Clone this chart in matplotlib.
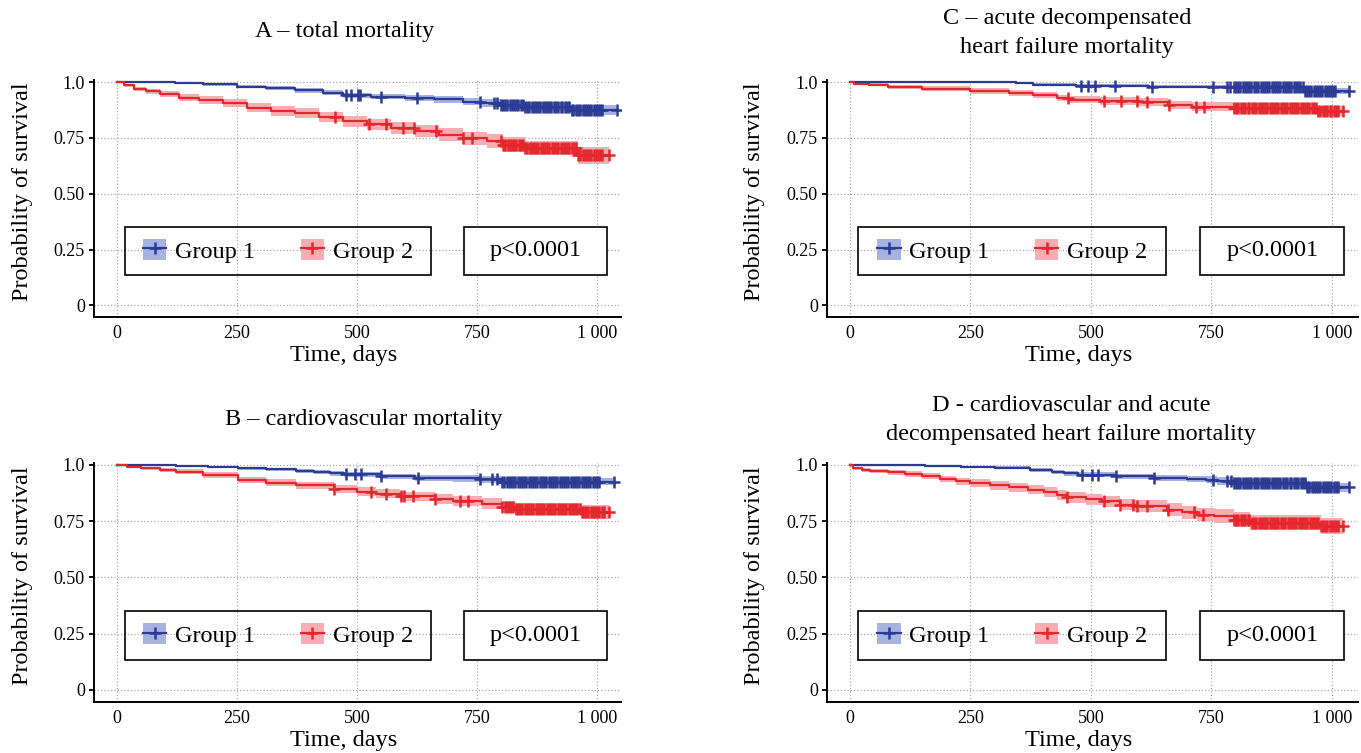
import numpy as np
import matplotlib
matplotlib.use("Agg")
import matplotlib.pyplot as plt
from matplotlib.patches import Patch, Rectangle
from matplotlib.lines import Line2D
from matplotlib.transforms import blended_transform_factory

plt.rcParams['font.family'] = ['Liberation Serif', 'DejaVu Serif']

# Kaplan-Meier curves: (day, survival, lower CI, upper CI)
a_blue = [(0, 1.0, 1.0, 1.0), (60, .998, .995, 1.0), (120, .995, .990, 1.0), (180, .990, .984, .996),
          (250, .980, .972, .988), (310, .972, .963, .981), (370, .963, .953, .973), (430, .952, .941, .963),
          (470, .940, .928, .952), (530, .935, .922, .948), (600, .928, .914, .942), (660, .922, .907, .937),
          (720, .912, .896, .928), (760, .905, .888, .922), (800, .897, .879, .915), (850, .890, .871, .909),
          (945, .875, .853, .897), (1040, .875, .853, .897)]
a_red = [(0, 1.0, 1.0, 1.0), (15, .985, .978, .992), (35, .970, .960, .980), (60, .958, .946, .970),
         (90, .945, .931, .959), (130, .930, .914, .946), (170, .918, .900, .936), (220, .905, .886, .924),
         (270, .885, .864, .906), (320, .872, .850, .894), (370, .860, .837, .883), (420, .843, .819, .867),
         (470, .825, .800, .850), (520, .810, .784, .836), (570, .795, .768, .822), (620, .780, .752, .808),
         (670, .765, .736, .794), (720, .748, .718, .778), (770, .735, .704, .766), (805, .720, .688, .752),
         (850, .705, .672, .738), (960, .672, .635, .709), (1025, .672, .635, .709)]
b_blue = [(0, 1.0, 1.0, 1.0), (60, .999, .997, 1.0), (122, .996, .992, 1.0), (190, .990, .985, .995),
          (251, .985, .979, .991), (310, .980, .973, .987), (373, .974, .966, .982), (410, .968, .959, .977),
          (444, .963, .953, .973), (473, .959, .948, .970), (550, .950, .938, .962), (620, .941, .928, .954),
          (700, .940, .926, .954), (756, .936, .921, .951), (800, .926, .910, .942), (1036, .926, .910, .942)]
b_red = [(0, 1.0, 1.0, 1.0), (20, .993, .989, .997), (50, .985, .978, .992), (90, .978, .969, .987),
         (122, .971, .961, .981), (180, .955, .943, .967), (251, .934, .920, .948), (310, .921, .905, .937),
         (373, .909, .892, .926), (452, .894, .875, .913), (500, .882, .862, .902), (540, .873, .852, .894),
         (590, .860, .838, .882), (663, .850, .827, .873), (700, .840, .816, .864), (760, .828, .803, .853),
         (803, .815, .789, .841), (830, .806, .779, .833), (968, .791, .762, .820), (1025, .791, .762, .820)]
c_blue = [(0, 1.0, 1.0, 1.0), (120, .998, .996, 1.0), (345, .995, .991, .999), (380, .988, .982, .994),
          (470, .983, .976, .990), (620, .980, .972, .988), (740, .977, .968, .986), (940, .960, .945, .975),
          (1036, .960, .945, .975)]
c_red = [(0, 1.0, 1.0, 1.0), (10, .993, .988, .998), (40, .988, .981, .995), (80, .978, .969, .987),
         (150, .971, .961, .981), (250, .960, .948, .972), (330, .952, .939, .965), (380, .941, .927, .955),
         (430, .928, .913, .943), (455, .920, .904, .936), (520, .915, .898, .932), (600, .909, .891, .927),
         (660, .898, .879, .917), (710, .890, .870, .910), (795, .883, .862, .904), (970, .870, .846, .894),
         (1024, .870, .846, .894)]
d_blue = [(0, 1.0, 1.0, 1.0), (100, .999, .997, 1.0), (157, .997, .994, 1.0), (230, .993, .989, .997),
          (301, .988, .982, .994), (374, .978, .971, .985), (420, .970, .961, .979), (445, .963, .953, .973),
          (474, .956, .945, .967), (553, .949, .937, .961), (632, .941, .928, .954), (700, .937, .923, .951),
          (739, .934, .919, .949), (761, .929, .913, .945), (797, .919, .902, .936), (948, .902, .882, .922),
          (1035, .902, .882, .922)]
d_red = [(0, 1.0, 1.0, 1.0), (7, .985, .979, .991), (25, .978, .970, .986), (43, .974, .965, .983),
         (80, .967, .957, .977), (115, .960, .948, .972), (150, .950, .937, .963), (187, .938, .924, .952),
         (220, .928, .912, .944), (250, .919, .902, .936), (290, .909, .891, .927), (330, .900, .881, .919),
         (370, .890, .870, .910), (402, .879, .858, .900), (430, .866, .844, .888), (448, .856, .833, .879),
         (490, .847, .823, .871), (524, .838, .813, .863), (560, .824, .798, .850), (592, .816, .789, .843),
         (658, .801, .773, .829), (690, .790, .761, .819), (720, .779, .749, .809), (756, .772, .741, .803),
         (797, .757, .725, .789), (830, .743, .710, .776), (977, .728, .693, .763), (1023, .728, .693, .763)]

# censoring times (days); the end of follow-up is densely censored
a_blue_cens = [478, 488, 503, 507, 551, 626, 756, 786, 792,
               800, 804, 809, 813, 818, 822, 827, 832, 836, 841, 845, 850, 855, 859, 864, 868, 873, 878,
               882, 887, 891, 896, 901, 905, 910, 914, 919, 924, 928, 933, 937, 942, 947, 951, 956, 960,
               965, 970, 974, 979, 983, 988, 993, 997, 1002, 1006, 1011, 1041]
a_red_cens = [454, 526, 561, 595, 618, 664, 720, 739,
              800, 805, 809, 814, 818, 823, 827, 832, 837, 841, 846, 850, 855, 860, 864, 869, 873, 878,
              883, 887, 892, 896, 901, 906, 910, 915, 919, 924, 929, 933, 938, 942, 947, 952, 956, 961,
              965, 970, 975, 979, 984, 988, 993, 998, 1002, 1007, 1010, 1025]
b_blue_cens = [477, 495, 509, 551, 627, 756, 781, 792,
               803, 807, 812, 816, 821, 825, 830, 835, 839, 844, 848, 853, 858, 862, 867, 871, 876, 881,
               885, 890, 894, 899, 904, 908, 913, 917, 922, 927, 931, 936, 940, 945, 950, 954, 959, 963,
               968, 973, 977, 982, 986, 991, 996, 1000, 1004, 1036]
b_red_cens = [453, 529, 561, 591, 598, 616, 663, 715, 731,
              803, 808, 812, 817, 821, 826, 831, 835, 840, 844, 849, 854, 858, 863, 867, 872, 877, 881,
              886, 890, 895, 900, 904, 909, 913, 918, 923, 927, 932, 936, 941, 946, 950, 955, 959, 964,
              969, 973, 978, 982, 987, 992, 996, 1001, 1005, 1010, 1014, 1025]
c_blue_cens = [479, 494, 508, 550, 627, 753, 782, 789,
               797, 801, 806, 810, 815, 819, 824, 829, 833, 838, 842, 847, 852, 856, 861, 865, 870, 875,
               879, 884, 888, 893, 898, 902, 907, 911, 916, 921, 925, 930, 934, 939, 944, 948, 953, 957,
               962, 967, 971, 976, 980, 985, 990, 994, 999, 1003, 1007, 1036]
c_red_cens = [452, 528, 563, 596, 617, 663, 719, 735,
              797, 802, 806, 811, 815, 820, 825, 829, 834, 838, 843, 848, 852, 857, 861, 866, 871, 875,
              880, 884, 889, 894, 898, 903, 907, 912, 917, 921, 926, 930, 935, 940, 944, 949, 953, 958,
              963, 967, 972, 976, 981, 986, 990, 995, 999, 1004, 1008, 1012, 1023]
d_blue_cens = [481, 503, 514, 553, 632, 753, 783, 790,
               797, 801, 806, 810, 815, 820, 824, 829, 833, 838, 843, 847, 852, 856, 861, 866, 870, 875,
               879, 884, 889, 893, 898, 902, 907, 912, 916, 921, 925, 930, 935, 939, 944, 948, 953, 958,
               962, 967, 971, 976, 981, 985, 990, 994, 999, 1004, 1008, 1012, 1035]
d_red_cens = [450, 527, 561, 588, 595, 617, 660, 713, 733,
              797, 802, 806, 811, 816, 820, 825, 829, 834, 839, 843, 848, 852, 857, 862, 866, 871, 875,
              880, 885, 889, 894, 898, 903, 908, 912, 917, 921, 926, 931, 935, 940, 944, 949, 954, 958,
              963, 967, 972, 977, 981, 986, 990, 995, 1000, 1004, 1008, 1012, 1023]

titles = ['A – total mortality', 'B – cardiovascular mortality',
          'C – acute decompensated\nheart failure mortality',
          'D - cardiovascular and acute\ndecompensated heart failure mortality']
group_labels = ['Group 1', 'Group 2']
p_text = 'p<0.0001'
x_ticks = [0, 250, 500, 750, 1000]
x_ticklabels = ['0', '250', '500', '750', '1 000']
y_ticks = [0, 0.25, 0.5, 0.75, 1.0]
y_ticklabels = ['0', '0.25', '0.50', '0.75', '1.0']

BLUE, BLUE_CI = '#2b3a92', '#a6b3e0'
RED, RED_CI = '#e5262c', '#f6aeb2'


def km(ax, rows, cens, color, fill):
    t = np.array([r[0] for r in rows], dtype=float)
    s = np.array([r[1] for r in rows])
    lo = np.array([r[2] for r in rows])
    hi = np.array([r[3] for r in rows])
    ax.fill_between(t, lo, hi, step='post', color=fill, lw=0, zorder=2)
    ax.step(t, s, where='post', color=color, lw=1.6, zorder=3)
    idx = np.searchsorted(t, cens, side='right') - 1
    ax.plot(cens, s[idx], ls='none', marker='+', ms=8, mew=1.8, color=color, zorder=4)


fig = plt.figure(figsize=(13.61, 7.53), dpi=100)

W, H = 1361, 753
# panel boxes in pixels: left, right, top, bottom, then axis limits
panels = [
    (a_blue, a_blue_cens, a_red, a_red_cens, 94, 621, 79.8, 317, (-48, 1050), (-0.052, 1.01)),
    (b_blue, b_blue_cens, b_red, b_red_cens, 94, 621, 462.75, 702, (-48, 1050), (-0.054, 1.01)),
    (c_blue, c_blue_cens, c_red, c_red_cens, 827, 1358, 79.8, 317, (-47, 1054), (-0.052, 1.01)),
    (d_blue, d_blue_cens, d_red, d_red_cens, 827, 1358, 462.75, 702, (-47, 1054), (-0.054, 1.01)),
]
title_pos = [(345, 32), (364, 420), (1067, 33), (1071, 420)]

for i, (b, bc, r, rc, x0, x1, y0, y1, xl, yl) in enumerate(panels):
    ax = fig.add_axes([x0 / W, 1 - y1 / H, (x1 - x0) / W, (y1 - y0) / H])
    ax.set_axisbelow(True)
    km(ax, b, bc, BLUE, BLUE_CI)
    km(ax, r, rc, RED, RED_CI)
    ax.set_xlim(*xl)
    ax.set_ylim(*yl)
    ax.set_xticks(x_ticks, x_ticklabels)
    ax.set_yticks(y_ticks, y_ticklabels)
    ax.tick_params(axis='x', length=0, pad=6, labelsize=13)
    ax.tick_params(axis='y', length=3.5, width=1.3, pad=3, labelsize=13)
    ax.grid(True, ls=':', color='#a8a8a8', lw=0.9)
    for sp in ['top', 'right']:
        ax.spines[sp].set_visible(False)
    for sp in ['left', 'bottom']:
        ax.spines[sp].set_linewidth(1.4)
    ax.set_xlabel('Time, days', fontsize=17.5)
    ax.set_ylabel('Probability of survival', fontsize=17.5)
    ax.xaxis.set_label_coords(0.473, -0.118)
    ax.yaxis.set_label_coords(-0.116, 0.53)

    # legend frame and p-value frame
    tr = blended_transform_factory(ax.transAxes, ax.transData)
    ax.add_patch(Rectangle((0.059, 0.135), 0.580, 0.217, transform=tr, fill=False,
                           edgecolor='black', lw=1.2, zorder=5))
    ax.add_patch(Rectangle((0.703, 0.135), 0.271, 0.217, transform=tr, facecolor='white',
                           edgecolor='black', lw=1.2, zorder=5))
    ax.text(0.703 + 0.271 / 2, 0.2435, p_text, transform=tr, ha='center', va='center',
            fontsize=17.5, zorder=6)
    handles = [(Patch(facecolor=BLUE_CI, edgecolor='none'),
                Line2D([], [], color=BLUE, lw=1.6, marker='+', ms=8, mew=1.8)),
               (Patch(facecolor=RED_CI, edgecolor='none'),
                Line2D([], [], color=RED, lw=1.6, marker='+', ms=8, mew=1.8))]
    ax.legend(handles, group_labels, ncol=2, frameon=False, fontsize=17.5,
              loc='center', bbox_to_anchor=(0.059 + 0.58 / 2, 0.2435), bbox_transform=tr,
              handlelength=0.95, handleheight=0.95, handletextpad=0.35, columnspacing=1.9,
              borderpad=0.0)

    tx, ty = title_pos[i]
    fig.text(tx / W, 1 - ty / H, titles[i], ha='center', va='center', fontsize=17.5,
             linespacing=1.45)

fig.savefig('out.png', dpi=100)
